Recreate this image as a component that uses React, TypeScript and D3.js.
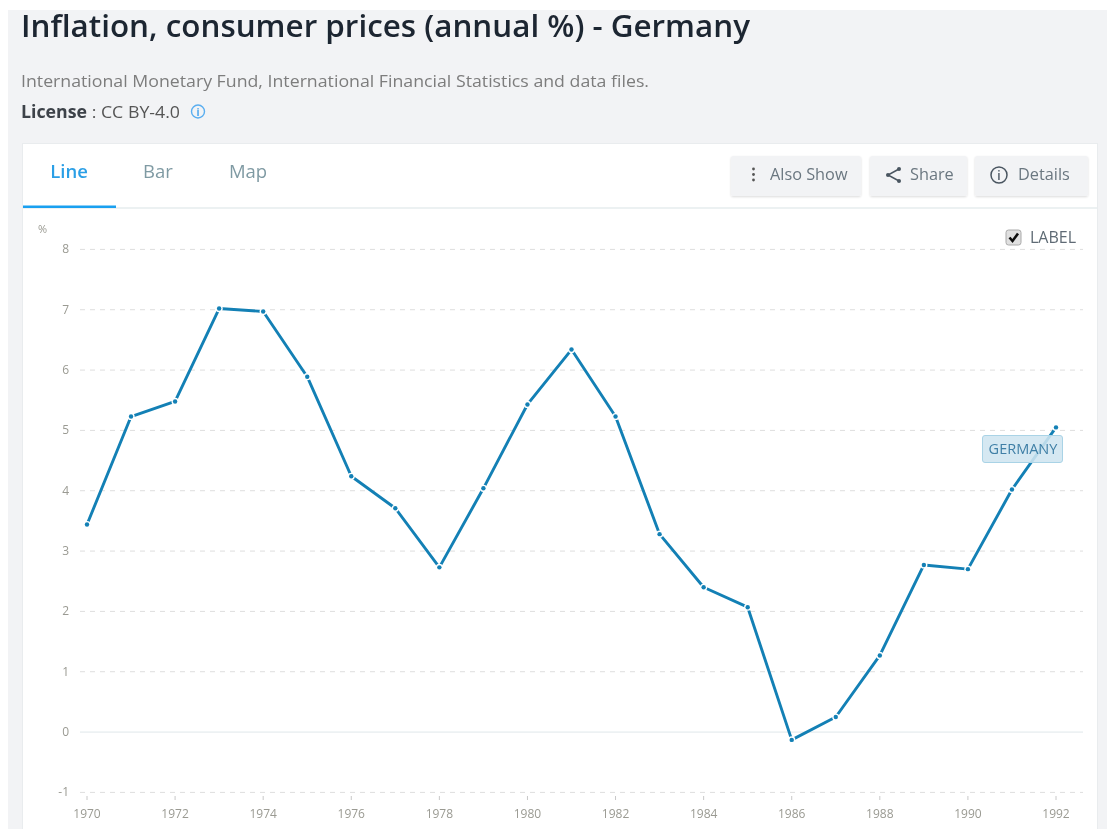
import React from "react";
import * as d3 from "d3";

const years = [1970,1971,1972,1973,1974,1975,1976,1977,1978,1979,1980,1981,1982,1983,1984,1985,1986,1987,1988,1989,1990,1991,1992];
const inflation = [3.44,5.23,5.48,7.02,6.97,5.89,4.24,3.71,2.73,4.04,5.43,6.34,5.23,3.28,2.40,2.07,-0.13,0.25,1.27,2.77,2.70,4.02,5.05];
const yTicks = [-1,0,1,2,3,4,5,6,7,8];
const xTicks = [1970,1972,1974,1976,1978,1980,1982,1984,1986,1988,1990,1992];
const tabs = ["Line","Bar","Map"];
const tabX = [69,158,248];
const tabColors = ["#2b9fe6","#7f9aa3","#7f9aa3"];

const F = "'Open Sans', sans-serif";

export default function App() {
  const x = d3.scaleLinear().domain([1970,1992]).range([87,1056]);
  const y = d3.scaleLinear().domain([-1,8]).range([792.4,249.4]);
  const line = d3.line<number>().x((_,i)=>x(years[i])).y(d=>y(d));
  return (
    <svg width={1107} height={829} style={{position:"absolute",left:0,top:0,fontFamily:F}}>
      <defs>
        <filter id="soft" x="-5%" y="-5%" width="110%" height="110%"><feGaussianBlur stdDeviation="0.35"/></filter>
        <filter id="btn" x="-10%" y="-10%" width="120%" height="130%"><feDropShadow dx="0" dy="1" stdDeviation="1" floodColor="#000" floodOpacity="0.14"/></filter>
      </defs>
      <rect width={1107} height={829} fill="#fff"/>
      <rect x={8} y={10} width={1099} height={819} fill="#f2f3f5"/>
      <g filter="url(#soft)">
        <text x={21} y={37} fontSize={30} fontWeight={600} fill="#1d2530" textLength={729} lengthAdjust="spacingAndGlyphs">Inflation, consumer prices (annual %) - Germany</text>
        <text x={21} y={87} fontSize={16.5} fill="#7d7d7d" textLength={628} lengthAdjust="spacingAndGlyphs">International Monetary Fund, International Financial Statistics and data files.</text>
        <text x={21} y={118} fontSize={17} fill="#555" textLength={159} lengthAdjust="spacingAndGlyphs"><tspan fontWeight={700} fill="#3c4248">License</tspan><tspan> : CC BY-4.0</tspan></text>
        <circle cx={198} cy={111.5} r={6.5} fill="none" stroke="#5aaef0" strokeWidth={1.4}/>
        <text x={198} y={115.5} fontSize={10} fontWeight={700} fill="#4aa5ee" textAnchor="middle">i</text>
      </g>
      <rect x={22.5} y={143.5} width={1075} height={700} fill="#fff" stroke="#e9ecee"/>
      <line x1={23} x2={1097} y1={208} y2={208} stroke="#e6ecee" strokeWidth={1.4}/>
      <rect x={23} y={205.5} width={93} height={2.5} fill="#1aa0f0"/>
      <g filter="url(#soft)">
        {tabs.map((t,i)=>(
          <text key={t} x={tabX[i]} y={178} fontSize={18.5} textAnchor="middle" fontWeight={i===0?600:400} fill={tabColors[i]}>{t}</text>
        ))}
      </g>
      {[[731,130],[870,97],[975,113]].map(([bx,bw])=>(
        <rect key={bx} x={bx} y={156} width={bw} height={40} rx={2} fill="#f2f3f5" filter="url(#btn)"/>
      ))}
      <g filter="url(#soft)" fontSize={16.3} fill="#6b7780">
        <text x={770} y={180}>Also Show</text>
        <text x={910} y={180}>Share</text>
        <text x={1018} y={180}>Details</text>
        <circle cx={753.5} cy={169} r={1.4} fill="#555"/>
        <circle cx={753.5} cy={174.5} r={1.4} fill="#555"/>
        <circle cx={753.5} cy={180} r={1.4} fill="#555"/>
        <path d="M899,169 L888,175 L899,181" fill="none" stroke="#4a5560" strokeWidth={1.5}/>
        <circle cx={899} cy={169} r={2} fill="#4a5560"/>
        <circle cx={888} cy={175} r={2} fill="#4a5560"/>
        <circle cx={899} cy={181} r={2} fill="#4a5560"/>
        <circle cx={999} cy={175} r={8} fill="none" stroke="#4a5560" strokeWidth={1.5}/>
        <text x={999} y={180} fontSize={12} fontWeight={600} fill="#4a5560" textAnchor="middle">i</text>
      </g>
      <g filter="url(#soft)">
        <rect x={1006} y={230} width={15} height={15} rx={2.5} fill="#e0e0e0" stroke="#aaa"/>
        <path d="M1009.5,237.5 L1012.5,241 L1018,233.5" fill="none" stroke="#111" strokeWidth={2.6}/>
        <text x={1030} y={243} fontSize={16} fill="#5f6b74">LABEL</text>
      </g>
      <g>
        {yTicks.map(t=>(
          <line key={t} x1={80} x2={1083} y1={y(t)} y2={y(t)} stroke={t===0?"#dfe7ea":"#dedede"} strokeWidth={1} strokeDasharray={t===0?undefined:"5 5"}/>
        ))}
      </g>
      <g filter="url(#soft)" fontSize={12} fill="#9a9a92">
        <text x={38} y={233} fontSize={11}>%</text>
        {yTicks.map(t=>(
          <text key={t} x={69} y={y(t)+4} textAnchor="end">{t}</text>
        ))}
        {xTicks.map(t=>(
          <g key={t}>
            <line x1={x(t)} x2={x(t)} y1={796} y2={800} stroke="#c8c8c8"/>
            <text x={x(t)} y={818} textAnchor="middle">{t}</text>
          </g>
        ))}
      </g>
      <path d={line(inflation) ?? ""} fill="none" stroke="#1380b5" strokeWidth={2.9} strokeLinejoin="round"/>
      {inflation.map((d,i)=>(
        <g key={years[i]}>
          <circle cx={x(years[i])} cy={y(d)} r={3.6} fill="#fff"/>
          <circle cx={x(years[i])} cy={y(d)} r={2.2} fill="#1380b5"/>
        </g>
      ))}
      <rect x={982.5} y={435.5} width={80} height={27} rx={2.5} fill="#cfe5f0" fillOpacity={0.88} stroke="#a9d3e6"/>
      <text x={1023} y={454} fontSize={14.5} fill="#3f7fa6" textAnchor="middle" filter="url(#soft)">GERMANY</text>
    </svg>
  );
}
